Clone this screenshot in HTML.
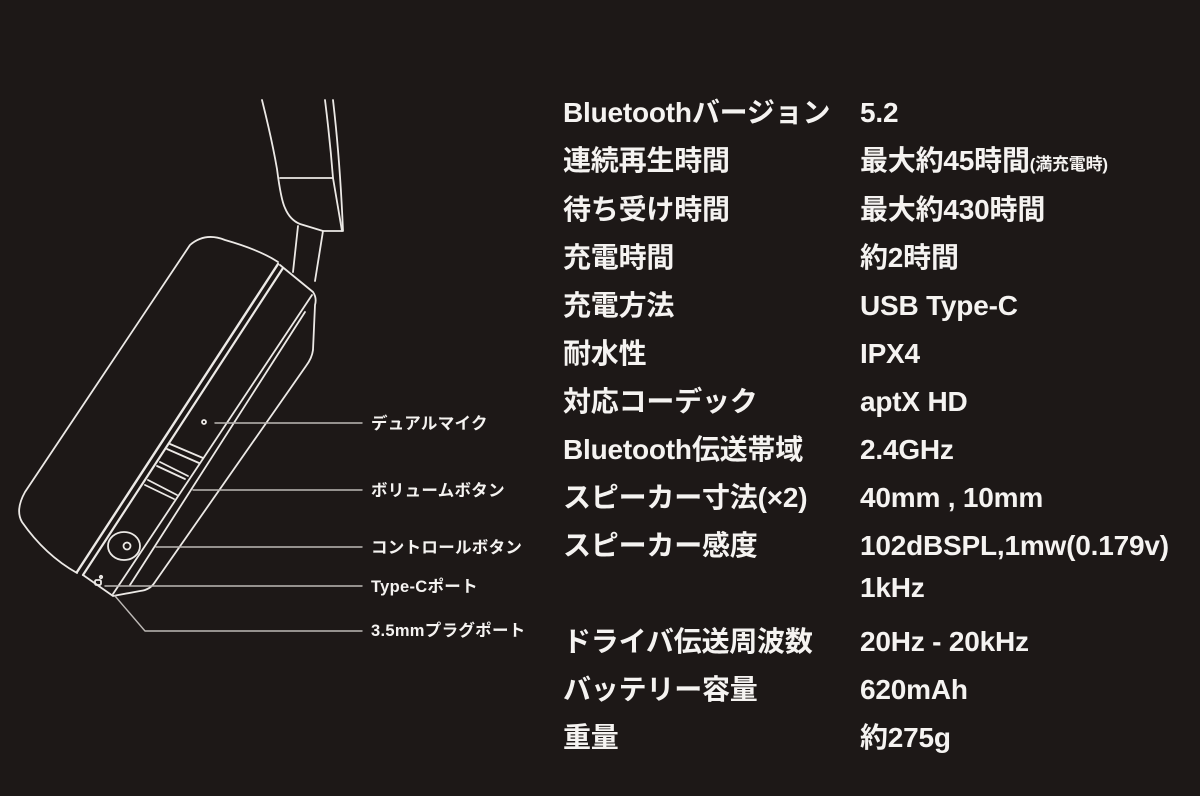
<!DOCTYPE html>
<html><head><meta charset="utf-8"><style>
html,body{margin:0;padding:0;background:#1d1817;}
body{width:1200px;height:796px;position:relative;overflow:hidden;font-family:"Liberation Sans","Noto Sans CJK JP",sans-serif;color:#f5f3f1;font-weight:bold;}
.t{position:absolute;font-size:28px;line-height:30px;white-space:nowrap;letter-spacing:-0.2px}
.l{position:absolute;font-size:16.5px;line-height:18px;white-space:nowrap;left:371px;letter-spacing:0.3px}
svg{position:absolute;left:0;top:0}
</style></head><body>
<svg width="1200" height="796" fill="none" stroke="#ece9e6" stroke-width="1.8" stroke-linejoin="round" stroke-linecap="round">
<path d="M262 100 Q272 140 277 169 Q281 200 285 208 Q290 220 300 224 L323 231 L342 231"/>
<path d="M325 100 Q330 140 333 178 L342 231"/>
<path d="M333 100 Q340 160 343 231"/>
<path d="M280 178 L333 178"/>
<path d="M298 226 L293 272"/><path d="M323 231 L315 281"/>
<path d="M278 262 Q260 250 225 240 Q205 232 190 245 L25 492 Q15 510 22 522 Q45 555 77 573"/>
<path d="M278 264 L77 572" stroke-width="2.4"/>
<path d="M283 268 L83 575" stroke-width="2.2"/>
<path d="M280 265 L313 292 Q317 298 315 305 L313 350 Q312 358 306 366 L155 582 Q150 590 140 591 L113 596 L83 575"/>
<path d="M312 295 L113 594"/>
<path d="M305 312 L130 585 "/>
<path d="M170 444 L203 458 M167 449 L199 463"/>
<path d="M160 462 L188 476 M157 466 L185 479"/>
<path d="M148 480 L177 495 M145 485 L174 499"/>
<circle cx="204" cy="422" r="2"/>
<ellipse cx="124" cy="546" rx="16" ry="14"/>
<circle cx="127" cy="546" r="3.5"/>
<rect x="95" y="580" width="6" height="5" rx="1.5"/>
<circle cx="101" cy="577" r="1.2"/>
<g stroke="#bdb9b6" stroke-width="1.4">
<path d="M215 423 L362 423"/>
<path d="M193 490 L362 490"/>
<path d="M156 547 L362 547"/>
<path d="M105 586 L362 586"/>
<path d="M115 596 L145 631 L362 631"/>
</g>
</svg>
<div class="l" style="top:415px">デュアルマイク</div>
<div class="l" style="top:482px">ボリュームボタン</div>
<div class="l" style="top:539px">コントロールボタン</div>
<div class="l" style="top:578px">Type-Cポート</div>
<div class="l" style="top:622px">3.5mmプラグポート</div>

<div class="t" style="left:563px;top:98px">Bluetoothバージョン</div><div class="t" style="left:860px;top:98px">5.2</div>
<div class="t" style="left:563px;top:146px">連続再生時間</div><div class="t" style="left:860px;top:146px">最大約45時間<span style="font-size:17px">(満充電時)</span></div>
<div class="t" style="left:563px;top:195px">待ち受け時間</div><div class="t" style="left:860px;top:195px">最大約430時間</div>
<div class="t" style="left:563px;top:243px">充電時間</div><div class="t" style="left:860px;top:243px">約2時間</div>
<div class="t" style="left:563px;top:291px">充電方法</div><div class="t" style="left:860px;top:291px">USB Type-C</div>
<div class="t" style="left:563px;top:339px">耐水性</div><div class="t" style="left:860px;top:339px">IPX4</div>
<div class="t" style="left:563px;top:387px">対応コーデック</div><div class="t" style="left:860px;top:387px">aptX HD</div>
<div class="t" style="left:563px;top:435px">Bluetooth伝送帯域</div><div class="t" style="left:860px;top:435px">2.4GHz</div>
<div class="t" style="left:563px;top:483px">スピーカー寸法(×2)</div><div class="t" style="left:860px;top:483px">40mm , 10mm</div>
<div class="t" style="left:563px;top:531px">スピーカー感度</div><div class="t" style="left:860px;top:531px">102dBSPL,1mw(0.179v)</div>
<div class="t" style="left:860px;top:573px">1kHz</div>
<div class="t" style="left:563px;top:627px">ドライバ伝送周波数</div><div class="t" style="left:860px;top:627px">20Hz - 20kHz</div>
<div class="t" style="left:563px;top:675px">バッテリー容量</div><div class="t" style="left:860px;top:675px">620mAh</div>
<div class="t" style="left:563px;top:723px">重量</div><div class="t" style="left:860px;top:723px">約275g</div>
</body></html>
